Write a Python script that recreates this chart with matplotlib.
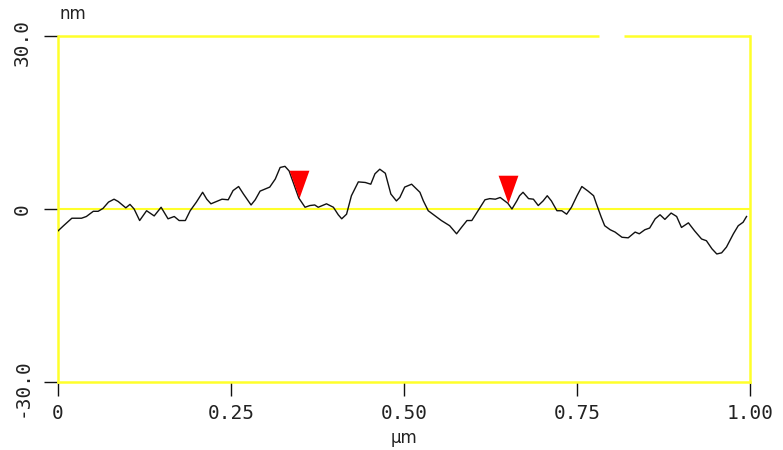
import matplotlib
matplotlib.use("Agg")
import matplotlib.pyplot as plt
import matplotlib.transforms as mtransforms

# ── Data ──────────────────────────────────────────────────────────────────────
pos_um = [0.000, 0.008, 0.020, 0.034, 0.041, 0.051, 0.058, 0.065, 0.073, 0.081,
          0.087, 0.098, 0.104, 0.110, 0.118, 0.128, 0.139, 0.149, 0.159, 0.168,
          0.175, 0.184, 0.191, 0.200, 0.209, 0.215, 0.221, 0.229, 0.237, 0.246,
          0.253, 0.261, 0.268, 0.279, 0.285, 0.292, 0.302, 0.306, 0.314, 0.321,
          0.328, 0.334, 0.340, 0.348, 0.357, 0.364, 0.371, 0.376, 0.388, 0.398,
          0.405, 0.410, 0.417, 0.424, 0.434, 0.444, 0.452, 0.458, 0.465, 0.473,
          0.481, 0.489, 0.494, 0.501, 0.511, 0.523, 0.528, 0.535, 0.545, 0.554,
          0.566, 0.576, 0.583, 0.591, 0.598, 0.607, 0.617, 0.624, 0.632, 0.639,
          0.650, 0.656, 0.663, 0.667, 0.672, 0.680, 0.687, 0.694, 0.701, 0.707,
          0.713, 0.721, 0.728, 0.735, 0.742, 0.750, 0.757, 0.766, 0.774, 0.778,
          0.785, 0.790, 0.798, 0.805, 0.815, 0.824, 0.834, 0.840, 0.848, 0.855,
          0.863, 0.870, 0.877, 0.886, 0.894, 0.901, 0.911, 0.920, 0.930, 0.937,
          0.945, 0.952, 0.959, 0.966, 0.976, 0.983, 0.990, 0.995]
height_nm = [-3.8, -2.9, -1.6, -1.6, -1.3, -0.4, -0.4, 0.1, 1.2, 1.7,
             1.3, 0.2, 0.8, 0.0, -2.0, -0.3, -1.2, 0.3, -1.7, -1.3,
             -2.0, -2.0, -0.3, 1.2, 2.9, 1.7, 0.9, 1.3, 1.7, 1.6,
             3.2, 3.9, 2.6, 0.7, 1.6, 3.1, 3.6, 3.8, 5.2, 7.2,
             7.4, 6.6, 4.6, 1.9, 0.3, 0.6, 0.7, 0.3, 0.9, 0.3,
             -1.0, -1.7, -0.9, 2.3, 4.7, 4.6, 4.3, 6.1, 6.9, 6.2,
             2.6, 1.4, 2.0, 3.8, 4.3, 2.9, 1.4, -0.3, -1.2, -2.0,
             -2.9, -4.3, -3.2, -2.0, -2.0, -0.3, 1.6, 1.8, 1.7, 2.0,
             1.0, 0.0, 1.4, 2.3, 2.9, 1.8, 1.7, 0.6, 1.4, 2.3,
             1.4, -0.3, -0.3, -0.9, 0.3, 2.3, 3.9, 3.1, 2.3, 0.9,
             -1.4, -2.9, -3.6, -4.0, -4.9, -5.0, -4.0, -4.3, -3.6, -3.3,
             -1.7, -1.0, -1.8, -0.7, -1.3, -3.2, -2.4, -3.8, -5.2, -5.5,
             -6.9, -7.8, -7.6, -6.6, -4.3, -2.9, -2.3, -1.3]

cursor_x = [0.348, 0.650]
cursor_y = [1.9, 1.0]

x_ticks = [0, 0.25, 0.50, 0.75, 1.00]
x_labels = ["0", "0.25", "0.50", "0.75", "1.00"]
y_ticks = [-30.0, 0, 30.0]
y_labels = ["-30.0", "0", "30.0"]

YELLOW = "#ffff2a"
TXT = "#222222"

fig = plt.figure(figsize=(7.83, 4.50), dpi=100)
ax = fig.add_axes([58 / 783, 68 / 450, 692 / 783, 346 / 450])

ax.set_xlim(0, 1)
ax.set_ylim(-30, 30)

# zero reference line
ax.axhline(0, color=YELLOW, lw=1.5, zorder=1)

# profile
ax.plot(pos_um, height_nm, color="#111111", lw=1.0, zorder=3)

# red cursor triangles, tip sits on the profile
tri = [(0, 0), (-10, 28), (10, 28)]
ax.plot(cursor_x, cursor_y, linestyle="none", marker=tri, markersize=40,
        color="#ff0000", markeredgewidth=0, zorder=4)

# frame: yellow, top edge with a small gap
for side in ["left", "right", "bottom"]:
    ax.spines[side].set_color(YELLOW)
    ax.spines[side].set_linewidth(1.8)
ax.spines["top"].set_visible(False)
ax.hlines(30, 0, 0.782, color=YELLOW, lw=1.8, clip_on=False)
ax.hlines(30, 0.818, 1.0, color=YELLOW, lw=1.8, clip_on=False)

ax.set_xticks(x_ticks)
ax.set_xticklabels(x_labels, family="DejaVu Sans Mono", fontsize=14, color=TXT)
ax.set_yticks(y_ticks)
ax.set_yticklabels(y_labels, family="DejaVu Sans Mono", fontsize=14, color=TXT,
                   rotation=90, va="center")
ax.tick_params(axis="both", length=10, width=1, color="#111111")
ax.tick_params(axis="x", pad=6)
ax.tick_params(axis="y", pad=9)

shift = mtransforms.ScaledTranslation(0, -6 / 100, fig.dpi_scale_trans)
for lab in ax.get_yticklabels():
    if lab.get_text() != "0":
        lab.set_transform(lab.get_transform() + shift)

ax.set_xlabel("µm", fontsize=12, color=TXT, labelpad=4)
fig.text(60 / 783, 1 - 14 / 450, "nm", fontsize=12, color=TXT, va="center", ha="left")

fig.savefig("out.png", dpi=100)
